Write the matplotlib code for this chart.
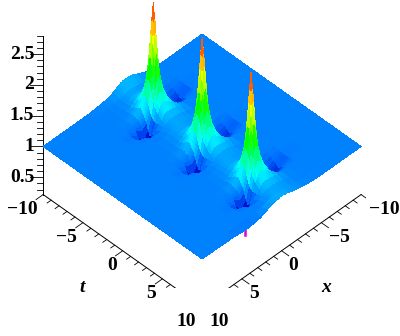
import numpy as np
import matplotlib
matplotlib.use('Agg')
import matplotlib.pyplot as plt
from matplotlib.colors import hsv_to_rgb
from mpl_toolkits.mplot3d import proj3d

plt.rcParams['font.family'] = ['Liberation Serif', 'DejaVu Serif']

# x columns of the surface table
x_vals = [-10, -6, -4.5, -3.5, -2.6, -1.8, -1.2, -0.8, -0.55, -0.35, -0.2, -0.1, 0,
          0.1, 0.2, 0.35, 0.55, 0.8, 1.2, 1.8, 2.6, 3.5, 4.5, 6, 10]
peak_t = [-6.15, 0, 6.15]
# t offsets around one peak
offsets = [-3.07, -2.2, -1.6, -1.1, -0.8, -0.55, -0.35, -0.2, -0.1, 0,
           0.1, 0.2, 0.35, 0.55, 0.8, 1.1, 1.6, 2.2]
peak_z = [
    [1.00, 1.00, 1.00, 1.00, 1.01, 1.03, 1.04, 1.05, 1.05, 1.06, 1.06, 1.06, 1.06, 1.06, 1.06, 1.06, 1.05, 1.04, 1.03, 1.01, 1.00, 1.00, 1.00, 1.00, 1.00],
    [1.00, 1.00, 1.00, 1.00, 1.01, 1.03, 1.05, 1.06, 1.07, 1.08, 1.08, 1.08, 1.08, 1.08, 1.08, 1.08, 1.07, 1.05, 1.03, 1.01, 1.00, 1.00, 1.00, 1.00, 1.00],
    [1.00, 1.00, 1.00, 0.99, 0.99, 1.03, 1.08, 1.11, 1.13, 1.14, 1.15, 1.15, 1.15, 1.15, 1.14, 1.13, 1.11, 1.08, 1.04, 1.01, 1.00, 1.00, 1.00, 1.00, 1.00],
    [1.00, 1.00, 0.99, 0.96, 0.95, 1.00, 1.12, 1.19, 1.23, 1.25, 1.26, 1.26, 1.27, 1.26, 1.25, 1.24, 1.21, 1.16, 1.08, 1.03, 1.00, 1.00, 1.00, 1.00, 1.00],
    [1.00, 1.00, 0.98, 0.94, 0.90, 0.96, 1.14, 1.26, 1.33, 1.37, 1.39, 1.41, 1.42, 1.41, 1.39, 1.36, 1.31, 1.22, 1.11, 1.04, 1.01, 1.00, 1.00, 1.00, 1.00],
    [1.00, 1.00, 0.98, 0.92, 0.85, 0.90, 1.14, 1.30, 1.43, 1.53, 1.60, 1.63, 1.65, 1.63, 1.59, 1.52, 1.41, 1.28, 1.14, 1.05, 1.01, 1.00, 1.00, 1.00, 1.00],
    [1.00, 1.00, 0.98, 0.91, 0.82, 0.86, 1.15, 1.35, 1.53, 1.72, 1.90, 1.98, 2.00, 1.96, 1.88, 1.71, 1.50, 1.32, 1.15, 1.05, 1.00, 1.00, 1.00, 1.00, 1.00],
    [1.00, 1.00, 0.98, 0.90, 0.80, 0.84, 1.16, 1.40, 1.60, 1.90, 2.15, 2.30, 2.35, 2.28, 2.12, 1.88, 1.56, 1.32, 1.12, 1.03, 1.00, 1.00, 1.00, 1.00, 1.00],
    [1.00, 1.00, 0.98, 0.90, 0.80, 0.83, 1.17, 1.41, 1.63, 1.98, 2.30, 2.50, 2.60, 2.48, 2.28, 1.94, 1.58, 1.31, 1.09, 1.01, 0.99, 1.00, 1.00, 1.00, 1.00],
    [1.00, 1.00, 0.98, 0.90, 0.79, 0.83, 1.18, 1.42, 1.65, 2.00, 2.35, 2.60, 2.77, 2.58, 2.32, 1.96, 1.58, 1.29, 1.07, 1.00, 0.98, 1.00, 1.00, 1.00, 1.00],
    [1.00, 1.00, 0.98, 0.90, 0.80, 0.84, 1.19, 1.41, 1.63, 1.98, 2.30, 2.50, 2.60, 2.48, 2.26, 1.90, 1.55, 1.27, 1.05, 0.99, 0.98, 1.00, 1.00, 1.00, 1.00],
    [1.00, 1.00, 0.98, 0.91, 0.81, 0.86, 1.19, 1.40, 1.60, 1.90, 2.15, 2.30, 2.35, 2.26, 2.08, 1.80, 1.51, 1.24, 1.03, 0.96, 0.98, 0.99, 1.00, 1.00, 1.00],
    [1.00, 1.00, 0.99, 0.93, 0.85, 0.90, 1.20, 1.37, 1.53, 1.72, 1.90, 1.98, 2.00, 1.95, 1.82, 1.60, 1.42, 1.16, 0.98, 0.90, 0.96, 0.99, 1.00, 1.00, 1.00],
    [1.00, 1.00, 0.99, 0.95, 0.90, 0.96, 1.19, 1.32, 1.43, 1.53, 1.60, 1.63, 1.65, 1.62, 1.56, 1.44, 1.30, 1.08, 0.88, 0.76, 0.90, 0.98, 1.00, 1.00, 1.00],
    [1.00, 1.00, 1.00, 0.98, 0.96, 1.03, 1.18, 1.26, 1.33, 1.37, 1.39, 1.41, 1.42, 1.40, 1.37, 1.30, 1.20, 1.02, 0.80, 0.66, 0.84, 0.97, 1.00, 1.00, 1.00],
    [1.00, 1.00, 1.00, 1.00, 1.01, 1.08, 1.16, 1.21, 1.24, 1.26, 1.27, 1.27, 1.27, 1.26, 1.25, 1.21, 1.14, 1.00, 0.84, 0.70, 0.86, 0.97, 1.00, 1.00, 1.00],
    [1.00, 1.00, 1.00, 1.00, 1.02, 1.08, 1.12, 1.14, 1.14, 1.15, 1.15, 1.15, 1.15, 1.15, 1.14, 1.12, 1.08, 1.02, 0.96, 0.88, 0.95, 0.99, 1.00, 1.00, 1.00],
    [1.00, 1.00, 1.00, 1.00, 1.01, 1.04, 1.07, 1.08, 1.08, 1.08, 1.08, 1.08, 1.08, 1.08, 1.08, 1.07, 1.05, 1.03, 1.00, 0.98, 0.99, 1.00, 1.00, 1.00, 1.00],
]
# rows at the two t edges
edge_low = [1.00, 1.00, 1.00, 1.01, 1.05, 1.10, 1.14, 1.15, 1.15, 1.15, 1.15, 1.15, 1.15, 1.14, 1.14, 1.13, 1.12, 1.10, 1.07, 1.04, 1.02, 1.01, 1.00, 1.00, 1.00]
edge_high = [1.00, 1.00, 1.00, 1.01, 1.03, 1.05, 1.07, 1.09, 1.10, 1.10, 1.11, 1.11, 1.11, 1.11, 1.11, 1.10, 1.10, 1.09, 1.08, 1.05, 1.00, 0.98, 0.97, 0.99, 1.00]
# small magenta sliver under the front edge
sliver_x = [4.6, 4.6]
sliver_t = [10, 10]
sliver_z = [0.98, 0.90]

z_lo, z_hi = 0.22, 2.8
xt_ticks = [-10, -5, 0, 5, 10]
z_ticks = [0.5, 1, 1.5, 2, 2.5]
z_labels = ['0.5', '1', '1.5', '2', '2.5']

t_rows = [-10.0]
z_rows = [edge_low]
for c in peak_t:
    for o, row in zip(offsets, peak_z):
        t_rows.append(c + o)
        z_rows.append(row)
t_rows.append(peak_t[-1] + 3.07)
z_rows.append(peak_z[0])
t_rows.append(10.0)
z_rows.append(edge_high)

X, T = np.meshgrid(x_vals, t_rows)
Z = np.array(z_rows)

# facet colour from the mean of its corners (maple zhue: red top round to magenta bottom)
Zm = Z.copy()
Zm[:-1, :-1] = (Z[:-1, :-1] + Z[1:, :-1] + Z[:-1, 1:] + Z[1:, 1:]) / 4
hue = (z_hi - Zm) / (z_hi - z_lo) * 300 / 360
val = np.clip(0.7 + (Zm - 0.66) * 1.0, 0.65, 1)
cols = hsv_to_rgb(np.dstack([hue, np.ones_like(hue), val]))

# the front wall of each peak catches the light
slope = np.zeros_like(Z)
slope[:-1, :-1] = -((Z[:-1, 1:] - Z[:-1, :-1]) / np.diff(X[:-1], axis=1)
                    + (Z[1:, :-1] - Z[:-1, :-1]) / np.diff(T, axis=0)[:, :-1])
glare = np.clip((slope - 1.5) / 3, 0, 0.5) * (Zm < 1.45)
cols = cols * (1 - glare[..., None]) + np.array([0.8, 0.8, 0.88]) * glare[..., None]

fig = plt.figure(figsize=(4.0, 3.36), dpi=100)
ax = fig.add_axes([-0.006, 0.144, 1.0, 1.0], projection='3d', proj_type='ortho')
ax.view_init(elev=45, azim=45)
ax.set_xlim(-10, 10)
ax.set_ylim(-10, 10)
ax.set_zlim(z_lo, z_hi)
ax.set_box_aspect((1, 1, 1), zoom=1.125)
ax.set_axis_off()

ax.plot_surface(X, T, Z, facecolors=cols, rstride=1, cstride=1, shade=False,
                linewidth=0, antialiased=False)
ax.plot(sliver_x, sliver_t, sliver_z, color='#e000d0', lw=1.8)

# axes frame
ax.plot([10, 10], [-10, 10], [z_lo, z_lo], color='k', lw=0.7)
ax.plot([-10, 10], [10, 10], [z_lo, z_lo], color='k', lw=0.7)
ax.plot([10, 10], [-10, -10], [z_lo, z_hi], color='k', lw=0.7)

for v in np.arange(-10, 11):
    ln = 0.9 if v % 5 == 0 else 0.5
    ax.plot([10, 10 + ln], [v, v], [z_lo, z_lo], color='k', lw=0.6)
    ax.plot([v, v], [10, 10 + ln], [z_lo, z_lo], color='k', lw=0.6)
for i in range(3, 29):
    ln = 0.8 if i % 5 == 0 else 0.4
    ax.plot([10, 10 + ln], [-10, -10 - ln], [i / 10, i / 10], color='k', lw=0.6)

fig.canvas.draw()


def label(x, t, z, dx, dy, text, **kw):
    # text placed some pixels away from a point of the box
    xs, ys, _ = proj3d.proj_transform(x, t, z, ax.get_proj())
    px = ax.transData.transform((xs, ys))
    fig.text((px[0] + dx) / 400, (px[1] - dy) / 336, text, fontsize=14, fontweight='bold',
             va='center', **kw)


for v in xt_ticks:
    lab = str(v).replace('-', '\u2212')
    label(10, v, z_lo, -6, 15, lab, ha='right')
    label(v, 10, z_lo, 8 if v < 0 else 7, 15, lab, ha='left')
for v, lab in zip(z_ticks, z_labels):
    label(10, -10, v, -9, 0, lab, ha='right')
label(10, 0, z_lo, -41, 37, 't', style='italic', ha='center')
label(0, 10, z_lo, 44, 37, 'x', style='italic', ha='center')

fig.savefig('out.png', dpi=100)
